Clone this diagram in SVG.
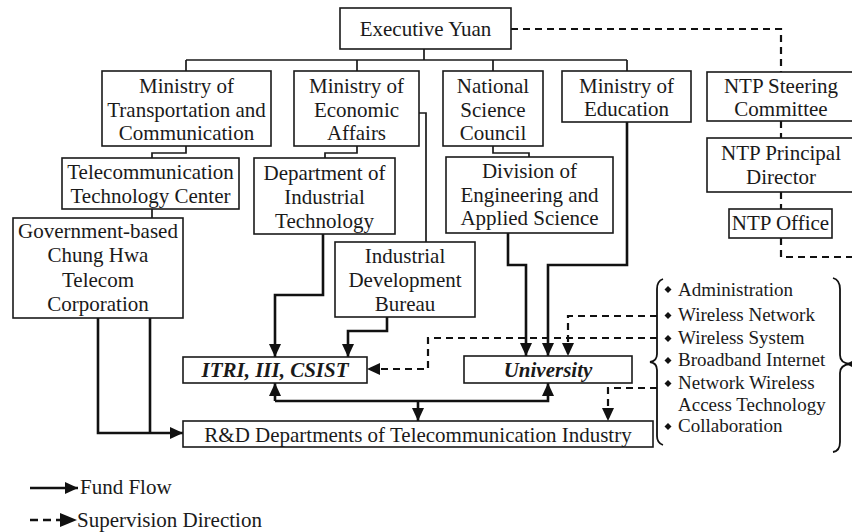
<svg xmlns="http://www.w3.org/2000/svg" width="852" height="532" viewBox="0 0 852 532">
<style>
  .box{fill:#fff;stroke:#1a1a1a;stroke-width:1.6}
  .t{font-family:"Liberation Serif","Times New Roman",serif;font-size:21px;fill:#1a1a1a;text-anchor:middle}
  .bi{font-weight:bold;font-style:italic}
  .li{font-family:"Liberation Serif","Times New Roman",serif;font-size:19px;fill:#1a1a1a}
  .h{fill:none;stroke:#1a1a1a;stroke-width:1.7}
  .f{fill:none;stroke:#111;stroke-width:2.6}
  .d{fill:none;stroke:#111;stroke-width:2.2;stroke-dasharray:7,5}
  .br{fill:none;stroke:#111;stroke-width:1.8}
</style>
<defs>
  <marker id="ah" markerUnits="userSpaceOnUse" markerWidth="14" markerHeight="12" refX="13" refY="6" orient="auto">
    <path d="M0,0 L13,6 L0,12 z" fill="#111"/>
  </marker>
</defs>
<rect width="852" height="532" fill="#fff"/>

<g id="connectors">
  <!-- hierarchy -->
  <path class="h" d="M424,49 V60 M186,60 H627 M186,60 V71 M357,60 V71 M493,60 V71 M627,60 V71"/>
  <path class="h" d="M186,146 V153 H152 V158"/>
  <path class="h" d="M152,209 V218"/>
  <path class="h" d="M357,146 V153 H325 V158"/>
  <path class="h" d="M419,113 H426 V242"/>
  <path class="h" d="M493,146 V153 H529 V157"/>
  <!-- supervision to NTP -->
  <path class="d" d="M511,29 H781 V72"/>
  <path class="d" d="M781,121 V138 M781,192 V209"/>
  <path class="d" d="M781,238 V257 H852"/>
  <!-- fund flows -->
  <path class="f" d="M323,234 V295 H275 V357" marker-end="url(#ah)"/>
  <path class="f" d="M387,317 V331 H348 V357" marker-end="url(#ah)"/>
  <path class="f" d="M508,233 V265 H526 V356" marker-end="url(#ah)"/>
  <path class="f" d="M627,122 V265 H548 V356" marker-end="url(#ah)"/>
  <path class="f" d="M98,318 V433 H183" marker-end="url(#ah)"/>
  <path class="f" d="M150,318 V433"/>
  <path class="f" d="M275,401 V383" marker-end="url(#ah)"/>
  <path class="f" d="M275,401 H548 V383" marker-end="url(#ah)"/>
  <path class="f" d="M418,401 V421" marker-end="url(#ah)"/>
  <!-- supervision from fields -->
  <path class="d" d="M657,338 H428 V369 H367" marker-end="url(#ah)"/>
  <path class="d" d="M657,316 H568 V356" marker-end="url(#ah)"/>
  <path class="d" d="M657,388 H608 V421" marker-end="url(#ah)"/>
  <!-- braces -->
  <path class="br" d="M663,279 Q657,281 657,289 V354 Q657,361 650,362 Q657,363 657,370 V436 Q657,443 663,445"/>
  <path class="br" d="M833,278 Q840,280 840,289 V355 Q840,363 850,364 Q840,365 840,373 V442 Q840,451 833,452"/>
  <path d="M846,364 L852,361 L852,367 z" fill="#111"/>
</g>

<g id="executive-yuan">
  <rect class="box" x="340" y="8" width="171" height="41"/>
  <text class="t" x="425.5" y="36">Executive Yuan</text>
</g>
<g id="motc">
  <rect class="box" x="102" y="71" width="169" height="75"/>
  <text class="t" x="186.5" y="93">Ministry of</text>
  <text class="t" x="186.5" y="117">Transportation and</text>
  <text class="t" x="186.5" y="140">Communication</text>
</g>
<g id="moea">
  <rect class="box" x="294" y="71" width="125" height="75"/>
  <text class="t" x="356.5" y="93">Ministry of</text>
  <text class="t" x="356.5" y="117">Economic</text>
  <text class="t" x="356.5" y="140">Affairs</text>
</g>
<g id="nsc">
  <rect class="box" x="443" y="71" width="100" height="75"/>
  <text class="t" x="493" y="93">National</text>
  <text class="t" x="493" y="117">Science</text>
  <text class="t" x="493" y="140">Council</text>
</g>
<g id="moe">
  <rect class="box" x="562" y="71" width="129" height="51"/>
  <text class="t" x="626.5" y="93">Ministry of</text>
  <text class="t" x="626.5" y="116">Education</text>
</g>
<g id="ntp-steering">
  <rect class="box" x="707" y="72" width="150" height="49"/>
  <text class="t" x="781" y="93">NTP Steering</text>
  <text class="t" x="781" y="116">Committee</text>
</g>
<g id="ntp-director">
  <rect class="box" x="707" y="138" width="150" height="54"/>
  <text class="t" x="781" y="160">NTP Principal</text>
  <text class="t" x="781" y="184">Director</text>
</g>
<g id="ntp-office">
  <rect class="box" x="729" y="209" width="103" height="29"/>
  <text class="t" x="780.5" y="230">NTP Office</text>
</g>
<g id="ttc">
  <rect class="box" x="62" y="158" width="177" height="51"/>
  <text class="t" x="150.5" y="179">Telecommunication</text>
  <text class="t" x="150.5" y="203">Technology Center</text>
</g>
<g id="cht">
  <rect class="box" x="13" y="218" width="170" height="100"/>
  <text class="t" x="98" y="238">Government-based</text>
  <text class="t" x="98" y="262">Chung Hwa</text>
  <text class="t" x="98" y="287">Telecom</text>
  <text class="t" x="98" y="311">Corporation</text>
</g>
<g id="dit">
  <rect class="box" x="254" y="158" width="141" height="76"/>
  <text class="t" x="324.5" y="180">Department of</text>
  <text class="t" x="324.5" y="204">Industrial</text>
  <text class="t" x="324.5" y="228">Technology</text>
</g>
<g id="idb">
  <rect class="box" x="335" y="242" width="140" height="75"/>
  <text class="t" x="405" y="263">Industrial</text>
  <text class="t" x="405" y="287">Development</text>
  <text class="t" x="405" y="311">Bureau</text>
</g>
<g id="deas">
  <rect class="box" x="446" y="157" width="167" height="76"/>
  <text class="t" x="529.5" y="178">Division of</text>
  <text class="t" x="529.5" y="202">Engineering and</text>
  <text class="t" x="529.5" y="225">Applied Science</text>
</g>
<g id="itri">
  <rect class="box" x="183" y="357" width="184" height="26"/>
  <text class="t bi" x="275" y="377">ITRI, III, CSIST</text>
</g>
<g id="university">
  <rect class="box" x="464" y="356" width="168" height="27"/>
  <text class="t bi" x="548" y="377">University</text>
</g>
<g id="rnd">
  <rect class="box" x="183" y="421" width="470" height="26"/>
  <text class="t" x="418" y="442">R&amp;D Departments of Telecommunication Industry</text>
</g>
<g id="fields">
  <g fill="#111">
    <path d="M668,286 l3.5,3.5 -3.5,3.5 -3.5,-3.5 z"/>
    <path d="M668,312 l3.5,3.5 -3.5,3.5 -3.5,-3.5 z"/>
    <path d="M668,335 l3.5,3.5 -3.5,3.5 -3.5,-3.5 z"/>
    <path d="M668,357 l3.5,3.5 -3.5,3.5 -3.5,-3.5 z"/>
    <path d="M668,380 l3.5,3.5 -3.5,3.5 -3.5,-3.5 z"/>
    <path d="M668,423 l3.5,3.5 -3.5,3.5 -3.5,-3.5 z"/>
  </g>
  <text class="li" x="678" y="296">Administration</text>
  <text class="li" x="678" y="321">Wireless Network</text>
  <text class="li" x="678" y="344">Wireless System</text>
  <text class="li" x="678" y="366">Broadband Internet</text>
  <text class="li" x="678" y="389">Network Wireless</text>
  <text class="li" x="678" y="411">Access Technology</text>
  <text class="li" x="678" y="432">Collaboration</text>
</g>
<g id="legend">
  <path class="f" d="M30,488 H78" marker-end="url(#ah)"/>
  <text class="t" x="80" y="494" style="text-anchor:start">Fund Flow</text>
  <path d="M30,520 H62" fill="none" stroke="#111" stroke-width="2.4" stroke-dasharray="8,5"/>
  <path d="M60,513 L77,520 L60,527 z" fill="#111"/>
  <text class="t" x="77" y="527" style="text-anchor:start">Supervision Direction</text>
</g>
</svg>
